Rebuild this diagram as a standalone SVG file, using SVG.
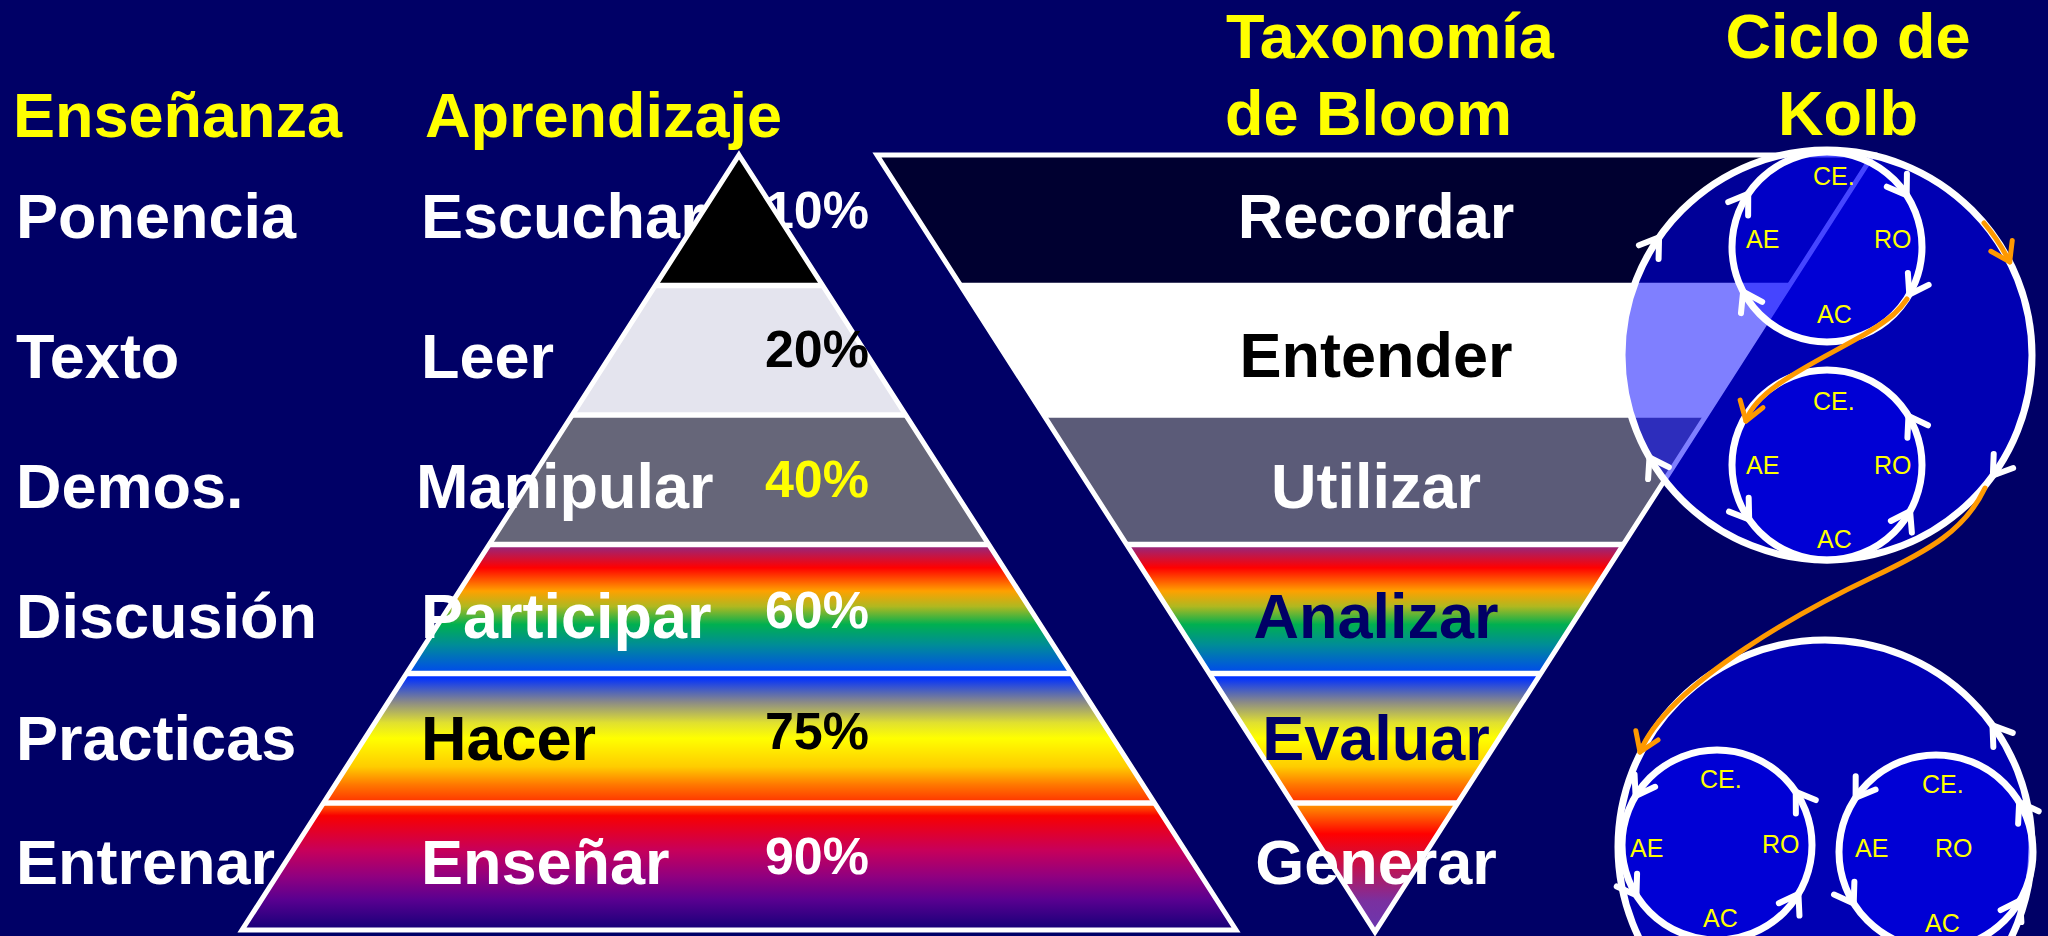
<svg xmlns="http://www.w3.org/2000/svg" xmlns:xlink="http://www.w3.org/1999/xlink" width="2048" height="936" viewBox="0 0 2048 936">
<style>
.t{font-family:"Liberation Sans",Arial,Helvetica,sans-serif;font-weight:bold;font-size:63px}
.p{font-family:"Liberation Sans",Arial,Helvetica,sans-serif;font-weight:bold;font-size:52px}
.k{font-family:"Liberation Sans",Arial,Helvetica,sans-serif;font-size:25px;fill:#ffff00}
.w{fill:#ffffff}.y{fill:#ffff00}.b{fill:#000000}.n{fill:#000066}
.sep{stroke:#ffffff;stroke-width:5.5}
.outline{fill:none;stroke:#ffffff;stroke-width:5;stroke-linejoin:miter}
.bigc{fill:#0000ff;fill-opacity:0.5;stroke:#ffffff;stroke-width:7}
.smc{fill:#0000ff;fill-opacity:0.45;stroke:#ffffff;stroke-width:7}
.chev{fill:none;stroke:#ffffff;stroke-width:6;stroke-linecap:round;stroke-linejoin:round}
.orange{fill:none;stroke:#ff9900;stroke-width:5;stroke-linecap:round}
</style>
<defs>
<linearGradient id="g4" x1="0" y1="0" x2="0" y2="1">
<stop offset="0" stop-color="#8c2a88"/>
<stop offset="0.18" stop-color="#ff0000"/>
<stop offset="0.36" stop-color="#ffa000"/>
<stop offset="0.48" stop-color="#b0b820"/>
<stop offset="0.62" stop-color="#00b050"/>
<stop offset="0.78" stop-color="#008c98"/>
<stop offset="1" stop-color="#0048f0"/>
</linearGradient>
<linearGradient id="g5" x1="0" y1="0" x2="0" y2="1">
<stop offset="0.03" stop-color="#0030ff"/>
<stop offset="0.22" stop-color="#8a8a88"/>
<stop offset="0.38" stop-color="#e0e030"/>
<stop offset="0.5" stop-color="#ffff00"/>
<stop offset="0.72" stop-color="#ffcc00"/>
<stop offset="0.86" stop-color="#ff7700"/>
<stop offset="1" stop-color="#ff3000"/>
</linearGradient>
<linearGradient id="g6" x1="0" y1="0" x2="0" y2="1">
<stop offset="0.03" stop-color="#ff5000"/>
<stop offset="0.1" stop-color="#f80000"/>
<stop offset="0.37" stop-color="#c8005a"/>
<stop offset="0.58" stop-color="#900080"/>
<stop offset="0.76" stop-color="#5a0090"/>
<stop offset="1" stop-color="#140078"/>
</linearGradient>
<linearGradient id="g7" x1="0" y1="0" x2="0" y2="1">
<stop offset="0.02" stop-color="#ff9000"/>
<stop offset="0.24" stop-color="#ff0000"/>
<stop offset="0.47" stop-color="#c8104a"/>
<stop offset="0.76" stop-color="#7a30a0"/>
<stop offset="1" stop-color="#6a38b0"/>
</linearGradient>
<path id="chev" class="chev" d="M-18,-12 L0,0 L-18,12"/>
<marker id="oarr" viewBox="-23 -16 28 32" markerWidth="28" markerHeight="32" refX="0" refY="0" orient="auto" markerUnits="userSpaceOnUse">
<path d="M-18,-12 L0,0 L-18,12" fill="none" stroke="#ff9900" stroke-width="5" stroke-linecap="round" stroke-linejoin="round"/>
</marker>
</defs>

<rect x="0" y="0" width="2048" height="936" fill="#000066"/>

<g id="ensenanza">
<text class="t y" x="13" y="137">Enseñanza</text>
<text class="t w" x="16" y="238">Ponencia</text>
<text class="t w" x="16" y="378">Texto</text>
<text class="t w" x="16" y="508">Demos.</text>
<text class="t w" x="16" y="638">Discusión</text>
<text class="t w" x="16" y="760">Practicas</text>
<text class="t w" x="16" y="884">Entrenar</text>
</g>

<g id="aprendizaje-title">
<text class="t y" x="425" y="137">Aprendizaje</text>
<text class="t w" x="421" y="238">Escuchar</text>
<text class="p w" x="869" y="228" text-anchor="end">10%</text>
</g>

<g id="piramide">
<polygon points="739,155 822.7,285.5 655.3,285.5" fill="#000000"/>
<polygon points="655.3,285.5 822.7,285.5 905.7,415 572.3,415" fill="#e4e4ee"/>
<polygon points="572.3,415 905.7,415 988.8,544.5 489.2,544.5" fill="#666679"/>
<polygon points="489.2,544.5 988.8,544.5 1071.5,673.5 406.5,673.5" fill="url(#g4)"/>
<polygon points="406.5,673.5 1071.5,673.5 1154.6,803 323.4,803" fill="url(#g5)"/>
<polygon points="323.4,803 1154.6,803 1236,930 242,930" fill="url(#g6)"/>
<line class="sep" x1="655.3" y1="285.5" x2="822.7" y2="285.5"/>
<line class="sep" x1="572.3" y1="415" x2="905.7" y2="415"/>
<line class="sep" x1="489.2" y1="544.5" x2="988.8" y2="544.5"/>
<line class="sep" x1="406.5" y1="673.5" x2="1071.5" y2="673.5"/>
<line class="sep" x1="323.4" y1="803" x2="1154.6" y2="803"/>
<polygon class="outline" points="739,155 1236,930 242,930"/>
<text class="t w" x="421" y="378">Leer</text>
<text class="t w" x="416" y="508">Manipular</text>
<text class="t w" x="421" y="638">Participar</text>
<text class="t b" x="421" y="760">Hacer</text>
<text class="t w" x="421" y="884">Enseñar</text>
<text class="p b" x="869" y="367" text-anchor="end">20%</text>
<text class="p y" x="869" y="497" text-anchor="end">40%</text>
<text class="p w" x="869" y="628" text-anchor="end">60%</text>
<text class="p b" x="869" y="749" text-anchor="end">75%</text>
<text class="p w" x="869" y="874" text-anchor="end">90%</text>
</g>

<g id="bloom">
<text class="t y" x="1226" y="58">Taxonomía</text>
<text class="t y" x="1225" y="135">de Bloom</text>
<polygon points="877,155 1873,155 1789.3,285.5 960.7,285.5" fill="#000030"/>
<polygon points="960.7,285.5 1789.3,285.5 1706.3,415 1043.7,415" fill="#ffffff"/>
<polygon points="1043.7,415 1706.3,415 1623.2,544.5 1126.8,544.5" fill="#5b5b78"/>
<polygon points="1126.8,544.5 1623.2,544.5 1540.5,673.5 1209.5,673.5" fill="url(#g4)"/>
<polygon points="1209.5,673.5 1540.5,673.5 1457.4,803 1292.6,803" fill="url(#g5)"/>
<polygon points="1292.6,803 1457.4,803 1375,932" fill="url(#g7)"/>
<line class="sep" x1="960.7" y1="285.5" x2="1789.3" y2="285.5"/>
<line class="sep" x1="1043.7" y1="415" x2="1706.3" y2="415"/>
<line class="sep" x1="1126.8" y1="544.5" x2="1623.2" y2="544.5"/>
<line class="sep" x1="1209.5" y1="673.5" x2="1540.5" y2="673.5"/>
<line class="sep" x1="1292.6" y1="803" x2="1457.4" y2="803"/>
<polygon class="outline" points="877,155 1873,155 1375,932"/>
<text class="t w" x="1376" y="238" text-anchor="middle">Recordar</text>
<text class="t b" x="1376" y="377" text-anchor="middle">Entender</text>
<text class="t w" x="1376" y="508" text-anchor="middle">Utilizar</text>
<text class="t n" x="1376" y="638" text-anchor="middle">Analizar</text>
<text class="t n" x="1376" y="760" text-anchor="middle">Evaluar</text>
<text class="t w" x="1376" y="884" text-anchor="middle">Generar</text>
</g>

<g id="kolb-title">
<text class="t y" x="1848" y="58" text-anchor="middle">Ciclo de</text>
<text class="t y" x="1848" y="135" text-anchor="middle">Kolb</text>
</g>

<g id="kolb-1">
<circle class="bigc" cx="1827" cy="355" r="205"/>
<use xlink:href="#chev" transform="translate(1827,355) rotate(-145) translate(205,0) rotate(90)"/>
<use xlink:href="#chev" transform="translate(1827,355) rotate(150) translate(205,0) rotate(90)"/>
<use xlink:href="#chev" transform="translate(1827,355) rotate(36) translate(205,0) rotate(90)"/>
<g id="kolb-1a">
<circle class="smc" cx="1827" cy="247" r="95"/>
<use xlink:href="#chev" transform="translate(1827,247) rotate(-146) translate(95,0) rotate(90)"/>
<use xlink:href="#chev" transform="translate(1827,247) rotate(-33) translate(95,0) rotate(90)"/>
<use xlink:href="#chev" transform="translate(1827,247) rotate(30) translate(95,0) rotate(90)"/>
<use xlink:href="#chev" transform="translate(1827,247) rotate(152) translate(95,0) rotate(90)"/>
<text class="k" x="1813" y="185">CE.</text>
<text class="k" x="1746" y="248">AE</text>
<text class="k" x="1874" y="248">RO</text>
<text class="k" x="1817" y="323">AC</text>
</g>
<g id="kolb-1b">
<circle class="smc" cx="1827" cy="465" r="95"/>
<use xlink:href="#chev" transform="translate(1827,465) rotate(-31) translate(95,0) rotate(-90)"/>
<use xlink:href="#chev" transform="translate(1827,465) rotate(29) translate(95,0) rotate(-90)"/>
<use xlink:href="#chev" transform="translate(1827,465) rotate(145) translate(95,0) rotate(-90)"/>
<text class="k" x="1813" y="410">CE.</text>
<text class="k" x="1746" y="474">AE</text>
<text class="k" x="1874" y="474">RO</text>
<text class="k" x="1817" y="548">AC</text>
</g>
</g>

<g id="kolb-2">
<circle class="bigc" cx="1825" cy="847" r="207"/>
<use xlink:href="#chev" transform="translate(1825,847) rotate(-36) translate(207,0) rotate(-90)"/>
<g id="kolb-2a">
<circle class="smc" cx="1717" cy="845" r="95"/>
<use xlink:href="#chev" transform="translate(1717,845) rotate(-149) translate(95,0) rotate(-90)"/>
<use xlink:href="#chev" transform="translate(1717,845) rotate(-34) translate(95,0) rotate(-90)"/>
<use xlink:href="#chev" transform="translate(1717,845) rotate(148) translate(95,0) rotate(-90)"/>
<use xlink:href="#chev" transform="translate(1717,845) rotate(31) translate(95,0) rotate(-90)"/>
<text class="k" x="1700" y="788">CE.</text>
<text class="k" x="1630" y="857">AE</text>
<text class="k" x="1762" y="853">RO</text>
<text class="k" x="1703" y="927">AC</text>
</g>
<g id="kolb-2b">
<circle class="smc" cx="1936" cy="852" r="97"/>
<use xlink:href="#chev" transform="translate(1936,852) rotate(-146) translate(97,0) rotate(-90)"/>
<use xlink:href="#chev" transform="translate(1936,852) rotate(-31) translate(97,0) rotate(-90)"/>
<use xlink:href="#chev" transform="translate(1936,852) rotate(148) translate(97,0) rotate(-90)"/>
<use xlink:href="#chev" transform="translate(1936,852) rotate(30) translate(97,0) rotate(-90)"/>
<text class="k" x="1922" y="793">CE.</text>
<text class="k" x="1855" y="857">AE</text>
<text class="k" x="1935" y="857">RO</text>
<text class="k" x="1925" y="932">AC</text>
</g>
</g>

<g id="connectors">
<path class="orange" d="M1984,223 A205,205 0 0,1 2009.7,261.9" marker-end="url(#oarr)"/>
<path class="orange" d="M1907,299 A95,95 0 0,1 1894,314 C1855,348 1760,378 1746,421" marker-end="url(#oarr)"/>
<path class="orange" d="M1985,488 C1965,530 1930,550 1873,577 S1670,680 1640,752" marker-end="url(#oarr)"/>
</g>
</svg>
